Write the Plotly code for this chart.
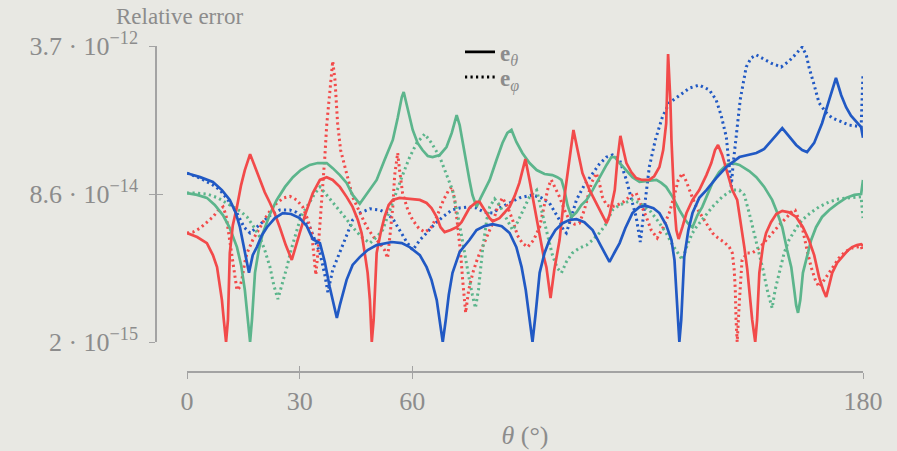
import plotly.graph_objects as go

# ---- data: (theta in degrees, relative error) ----
blue_theta = [(0,1.46e-13),(3.5,1.32e-13),(6.9,1.17e-13),(9.3,9.5e-14),(11.4,7.4e-14),(13.0,5.3e-14),(14.1,3.7e-14),
 (15.4,2.07e-14),(16.5,1.16e-14),(17.5,1.82e-14),(18.6,2.23e-14),(19.9,3.0e-14),(21.3,3.7e-14),(23.4,4.66e-14),
 (25.5,5.3e-14),(27.7,5.17e-14),(30.0,4.66e-14),(31.9,3.8e-14),(33.5,2.73e-14),(35.4,2.47e-14),(36.7,1.53e-14),
 (38.0,8.1e-15),(39.1,5.1e-15),(39.9,3.68e-15),(40.7,5.1e-15),(42.5,9.7e-15),(44.1,1.42e-14),(46.0,1.73e-14),
 (48.1,2.07e-14),(50.5,2.35e-14),(54.5,2.54e-14),(57.2,2.47e-14),(59.3,2.23e-14),(62.0,1.82e-14),(63.8,1.34e-14),
 (65.1,9.7e-15),(66.5,5.8e-15),(67.3,3.5e-15),(68.1,2.0e-15),(68.9,3.5e-15),(69.7,6.6e-15),(70.7,1.16e-14),
 (72.6,1.97e-14),(75.2,2.67e-14),(77.1,3.44e-14),(79.2,3.8e-14),(81.4,4.0e-14),(83.8,3.8e-14),(85.9,3.19e-14),
 (87.7,2.23e-14),(89.1,1.34e-14),(90.2,7.5e-15),(91.2,3.5e-15),(92.0,2.0e-15),(92.8,4.0e-15),(93.9,1.16e-14),
 (95.2,1.92e-14),(96.5,2.67e-14),(98.1,3.44e-14),(100.0,4.1e-14),(101.8,4.44e-14),(103.7,4.55e-14),(105.8,4.2e-14),
 (108.0,3.44e-14),(110.1,2.35e-14),(111.4,1.82e-14),(112.5,1.53e-14),(113.9,1.97e-14),(115.2,2.47e-14),
 (116.7,3.61e-14),(118.6,5.3e-14),(120.5,6.2e-14),(122.3,6.35e-14),(124.2,6.0e-14),(125.8,5.3e-14),(127.6,3.9e-14),
 (129.0,2.67e-14),(129.8,1.61e-14),(130.3,7.5e-15),(130.9,3.5e-15),(131.1,2.0e-15),(131.6,3.5e-15),(132.4,1.73e-14),
 (133.5,3.44e-14),(134.6,5.3e-14),(136.4,7.8e-14),(138.3,9.5e-14),(140.9,1.29e-13),(143.6,1.71e-13),(147.1,2.2e-13),
 (149.7,2.32e-13),(151.6,2.44e-13),(153.7,2.7e-13),(155.0,3.15e-13),(156.9,3.85e-13),(158.5,4.6e-13),(160.1,3.85e-13),
 (162.2,2.99e-13),(163.8,2.63e-13),(165.1,2.5e-13),(167.0,3.15e-13),(169.1,5.2e-13),(171.0,9.4e-13),(172.8,1.64e-12),
 (174.2,1.06e-12),(175.5,7.8e-13),(176.8,6.3e-13),(178.1,5.4e-13),(179.5,4.7e-13),(180,3.6e-13)]

blue_phi = [(0,1.46e-13),(3.5,1.29e-13),(6.9,1.08e-13),(8.8,9.5e-14),(10.9,7.4e-14),(13.3,5.3e-14),(15.2,3.7e-14),
 (16.8,3.19e-14),(18.3,3.61e-14),(20.2,4.2e-14),(22.1,5.0e-14),(24.7,5.73e-14),(27.4,5.73e-14),(29.2,5.4e-14),
 (31.1,4.66e-14),(32.7,3.7e-14),(34.0,2.67e-14),(35.4,1.92e-14),(36.7,1.1e-14),(37.5,7.1e-15),(38.8,1.25e-14),
 (40.7,1.92e-14),(42.5,3.0e-14),(44.1,4.44e-14),(46.0,5.3e-14),(48.7,5.9e-14),(51.3,5.73e-14),(53.2,5.3e-14),
 (55.0,4.44e-14),(56.6,3.44e-14),(58.5,2.54e-14),(60.1,2.07e-14),(62.0,2.67e-14),(63.8,3.19e-14),(65.9,4.0e-14),
 (68.1,4.8e-14),(70.5,5.73e-14),(72.6,6.03e-14),(75.2,6.2e-14),(77.1,6.03e-14),(79.2,5.4e-14),(81.4,5.3e-14),
 (83.2,6.03e-14),(85.9,6.85e-14),(88.5,7.8e-14),(92.0,8.4e-14),(94.4,7.8e-14),(96.5,6.85e-14),(98.1,5.4e-14),
 (99.2,4.44e-14),(100.2,3.44e-14),(101.0,3.19e-14),(102.1,4.44e-14),(103.7,7.4e-14),(105.8,1.08e-13),(108.0,1.46e-13),
 (109.8,1.84e-13),(111.7,2.2e-13),(113.3,2.32e-13),(115.2,2.04e-13),(117.0,1.23e-13),(118.6,6.85e-14),(119.6,4.8e-14),
 (120.7,2.54e-14),(121.8,5.73e-14),(123.1,1.71e-13),(124.7,3.4e-13),(126.6,6.1e-13),(128.4,8.7e-13),(131.1,1.06e-12),
 (133.8,1.27e-12),(136.4,1.37e-12),(139.1,1.21e-12),(140.9,9.4e-13),(142.2,6.4e-13),(143.6,3.67e-13),(144.4,1.8e-13),
 (144.9,1.03e-13),(145.4,1.8e-13),(146.2,3.4e-13),(147.3,9.4e-13),(148.9,2.17e-12),(150.2,2.73e-12),(151.6,2.95e-12),
 (153.7,2.66e-12),(155.5,2.4e-12),(158.2,2.17e-12),(160.3,2.52e-12),(161.9,2.95e-12),(163.8,3.6e-12),(164.9,2.95e-12),
 (165.6,2.17e-12),(167.0,1.37e-12),(168.3,8.7e-13),(170.2,6.8e-13),(171.8,5.94e-13),(174.2,5.4e-13),(176.3,4.96e-13),
 (178.1,4.85e-13),(179.5,4.7e-13),(180,1.86e-12)]

red_theta = [(0,3.19e-14),(2.7,2.88e-14),(5.3,2.47e-14),(6.9,1.82e-14),(8.0,1.34e-14),(8.8,8.5e-15),(9.3,5.8e-15),
 (9.8,3.5e-15),(10.4,2.0e-15),(10.9,3.5e-15),(11.4,1.92e-14),(12.2,3.9e-14),(13.3,6.2e-14),(14.4,1.08e-13),
 (15.4,1.58e-13),(16.8,2.37e-13),(18.1,1.71e-13),(19.4,1.23e-13),(20.7,9.0e-14),(22.1,6.85e-14),(23.4,5.17e-14),
 (24.7,3.7e-14),(26.3,2.35e-14),(27.9,1.61e-14),(29.0,2.23e-14),(30.0,3.19e-14),(31.6,5.3e-14),(33.5,8.8e-14),
 (35.4,1.23e-13),(37.2,1.32e-13),(38.8,1.23e-13),(40.7,1.03e-13),(42.5,8.0e-14),(44.1,6.2e-14),(45.5,4.44e-14),
 (46.5,3.19e-14),(47.6,1.61e-14),(48.1,1.16e-14),(48.7,5.8e-15),(48.9,3.5e-15),(49.2,2.0e-15),(49.7,3.5e-15),
 (50.5,1.92e-14),(51.6,3.27e-14),(52.6,4.8e-14),(53.7,6.5e-14),(54.8,7.4e-14),(56.6,7.8e-14),(59.3,7.6e-14),
 (62.0,7.4e-14),(63.8,6.85e-14),(65.1,6.03e-14),(66.5,4.8e-14),(67.5,3.7e-14),(68.6,3.27e-14),(70.2,3.44e-14),
 (71.8,3.7e-14),(73.1,4.2e-14),(75.2,6.03e-14),(77.1,7.03e-14),(77.9,7.03e-14),(79.2,5.73e-14),(80.6,4.66e-14),
 (81.4,4.3e-14),(83.2,4.66e-14),(85.9,6.2e-14),(87.2,8.1e-14),(88.5,1.14e-13),(90.1,2.09e-13),(91.2,1.23e-13),
 (92.3,6.85e-14),(93.9,3.19e-14),(94.9,1.82e-14),(95.7,1.34e-14),(96.8,6.1e-15),(97.8,1.25e-14),(99.2,2.67e-14),
 (100.2,6.5e-14),(101.3,1.46e-13),(102.1,2.77e-13),(102.9,4.38e-13),(104.0,2.63e-13),(105.3,1.46e-13),(107.2,9.5e-14),
 (109.0,6.85e-14),(110.6,5.0e-14),(111.7,4.1e-14),(112.5,5.0e-14),(113.9,9.5e-14),(114.6,2.04e-13),(115.4,3.77e-13),
 (116.2,2.63e-13),(117.0,1.89e-13),(118.3,1.5e-13),(119.6,1.29e-13),(121.2,1.23e-13),(123.1,1.23e-13),(124.4,1.35e-13),
 (125.8,1.71e-13),(126.8,2.63e-13),(127.6,5.2e-13),(128.1,3.01e-12),(128.7,9.4e-13),(129.0,3.4e-13),(129.8,6.2e-14),
 (130.3,3.44e-14),(130.9,2.74e-14),(131.9,3.7e-14),(133.0,5.3e-14),(134.6,7.4e-14),(136.4,9.5e-14),(138.3,1.39e-13),
 (139.6,1.89e-13),(140.6,2.63e-13),(141.4,2.99e-13),(142.5,2.32e-13),(143.6,1.58e-13),(145.2,9.5e-14),(146.5,7.4e-14),
 (147.6,3.9e-14),(148.4,2.23e-14),(149.2,1.25e-14),(150.0,5.8e-15),(150.5,3.5e-15),(151.3,2.0e-15),(151.8,3.5e-15),
 (152.4,1.16e-14),(153.4,2.35e-14),(154.2,3.19e-14),(155.5,4.2e-14),(156.9,5.17e-14),(158.5,5.6e-14),(160.3,5.4e-14),
 (162.2,4.8e-14),(164.0,3.7e-14),(165.6,2.67e-14),(167.0,1.82e-14),(168.3,1.04e-14),(169.4,7.5e-15),(170.2,6.3e-15),
 (171.0,8.5e-15),(171.8,1.16e-14),(173.1,1.49e-14),(174.5,1.73e-14),(175.8,2.02e-14),(177.1,2.23e-14),(178.4,2.35e-14),
 (179.5,2.4e-14),(180,2.3e-14)]

red_phi = [(0,3.19e-14),(1.6,3.27e-14),(3.5,3.61e-14),(5.3,4.2e-14),(6.9,4.8e-14),(8.2,5.6e-14),(9.6,6.2e-14),
 (10.4,5.0e-14),(11.4,2.67e-14),(12.2,1.53e-14),(12.8,1.16e-14),(13.3,7.5e-15),(14.1,8.1e-15),(14.6,9.7e-15),
 (15.4,1.53e-14),(16.0,1.92e-14),(17.5,2.67e-14),(19.4,3.7e-14),(21.5,5.17e-14),(23.9,6.85e-14),(25.8,7.8e-14),
 (27.4,8.1e-14),(29.2,7.4e-14),(30.8,6.2e-14),(32.2,4.44e-14),(33.2,3.19e-14),(33.8,1.82e-14),(34.3,1.1e-14),
 (34.8,1.82e-14),(35.4,4.1e-14),(36.2,9.5e-14),(36.7,2.2e-13),(37.2,4.96e-13),(37.8,9.4e-13),(38.3,1.64e-12),
 (38.8,2.52e-12),(39.4,1.56e-12),(40.1,5.2e-13),(40.9,2.63e-13),(42.0,1.71e-13),(43.1,1.14e-13),(44.1,8.0e-14),
 (46.0,5.4e-14),(47.9,3.7e-14),(49.7,2.88e-14),(51.3,2.47e-14),(52.6,2.07e-14),(53.4,1.69e-14),(54.2,3.44e-14),
 (54.8,6.2e-14),(55.3,1.39e-13),(56.1,2.44e-13),(56.6,1.58e-13),(57.4,8.8e-14),(58.8,5.73e-14),(60.1,4.44e-14),
 (61.7,3.61e-14),(63.3,3.27e-14),(64.9,3.61e-14),(66.5,4.8e-14),(68.3,7.4e-14),(69.7,9.5e-14),(70.5,1.03e-13),
 (71.3,7.4e-14),(72.1,3.7e-14),(72.9,1.82e-14),(73.4,9.7e-15),(74.2,4.2e-15),(75.0,7.5e-15),(76.1,1.16e-14),
 (77.4,1.69e-14),(78.7,2.23e-14),(80.0,3.0e-14),(81.4,4.1e-14),(82.7,6.2e-14),(84.0,7.8e-14),(85.3,6.3e-14),
 (86.7,4.44e-14),(88.0,3.0e-14),(89.3,2.47e-14),(90.7,2.23e-14),(92.3,2.67e-14),(93.9,3.7e-14),(95.2,6.5e-14),
 (96.2,1.03e-13),(97.0,1.23e-13),(98.1,1.0e-13),(99.2,8.0e-14),(100.5,5.73e-14),(101.8,4.44e-14),(103.2,4.0e-14),
 (104.5,4.1e-14),(105.8,5.73e-14),(106.9,8.4e-14),(107.7,1.14e-13),(109.0,1.46e-13),(109.8,1.14e-13),(110.6,8.0e-14),
 (111.7,6.5e-14),(113.0,6.2e-14),(114.6,6.5e-14),(116.2,7.03e-14),(117.8,8.0e-14),(119.6,8.8e-14),(121.0,6.5e-14),
 (122.3,4.8e-14),(123.6,3.44e-14),(125.2,2.81e-14),(126.8,3.7e-14),(128.4,5.3e-14),(129.8,8.4e-14),(130.8,1.23e-13),
 (131.9,1.46e-13),(133.0,1.17e-13),(134.3,8.4e-14),(135.6,6.2e-14),(137.2,4.8e-14),(138.5,3.9e-14),(139.9,3.19e-14),
 (141.4,2.81e-14),(143.0,2.54e-14),(144.4,2.23e-14),(145.2,1.92e-14),(145.7,1.25e-14),(146.0,7.5e-15),(146.2,3.5e-15),
 (146.5,2.0e-15),(147.1,5.8e-15),(147.8,1.61e-14),(149.2,1.92e-14),(150.5,1.92e-14),(152.4,2.18e-14),(154.2,2.67e-14),
 (155.8,3.19e-14),(157.7,3.9e-14),(159.8,4.8e-14),(161.4,5.73e-14),(161.9,5.73e-14),(163.0,4.44e-14),(163.8,3.7e-14),
 (165.1,2.07e-14),(166.2,1.34e-14),(167.3,9.7e-15),(168.3,8.1e-15),(169.7,9.7e-15),(171.0,1.16e-14),(172.3,1.42e-14),
 (173.6,1.69e-14),(175.2,1.97e-14),(177.1,2.18e-14),(178.4,2.23e-14),(179.5,2.29e-14),(180,1.97e-14)]

green_theta = [(0,8.8e-14),(2.7,8.4e-14),(5.3,7.8e-14),(7.4,6.5e-14),(9.6,5.0e-14),(11.4,3.61e-14),(13.3,2.23e-14),
 (14.4,1.42e-14),(15.4,7.5e-15),(16.2,3.5e-15),(16.8,2.0e-15),(17.3,3.5e-15),(18.1,1.16e-14),(19.1,2.07e-14),
 (20.2,3.19e-14),(22.1,5.17e-14),(23.9,7.4e-14),(26.1,1.03e-13),(28.2,1.32e-13),(30.3,1.58e-13),(32.7,1.8e-13),
 (34.8,1.89e-13),(37.2,1.89e-13),(38.8,1.66e-13),(40.7,1.39e-13),(42.5,1.14e-13),(44.1,8.4e-14),(46.0,6.7e-14),
 (48.1,8.8e-14),(50.5,1.23e-13),(52.6,2.04e-13),(54.8,3.4e-13),(56.1,5.94e-13),(57.2,1.01e-12),(57.7,1.15e-12),
 (58.5,8.3e-13),(60.1,4.38e-13),(61.4,3.15e-13),(62.7,2.63e-13),(64.1,2.26e-13),(65.4,2.2e-13),(67.3,2.32e-13),
 (69.1,2.84e-13),(70.5,4.06e-13),(71.3,5.64e-13),(71.8,6.4e-13),(72.6,4.96e-13),(73.4,3.15e-13),(74.5,1.8e-13),
 (75.2,1.23e-13),(76.0,8.4e-14),(77.1,6.2e-14),(78.2,7.8e-14),(79.2,9.5e-14),(80.6,1.23e-13),(82.4,2.04e-13),
 (84.0,3.15e-13),(85.3,4.06e-13),(86.4,4.38e-13),(87.7,3.23e-13),(89.3,2.44e-13),(91.2,1.89e-13),(93.1,1.58e-13),
 (95.2,1.43e-13),(97.3,1.39e-13),(98.6,1.32e-13),(99.7,1.23e-13),(100.5,9.5e-14),(101.3,6.5e-14),(102.4,4.8e-14),
 (103.7,5.4e-14),(105.0,6.5e-14),(106.4,7.4e-14),(108.0,9.5e-14),(109.8,1.32e-13),(111.7,1.8e-13),(113.0,2.2e-13),
 (113.9,2.2e-13),(115.2,1.89e-13),(117.0,1.58e-13),(118.6,1.32e-13),(120.5,1.17e-13),(122.6,1.2e-13),(125.0,1.23e-13),
 (126.3,1.14e-13),(127.6,1.03e-13),(129.3,8.0e-14),(131.1,5.73e-14),(132.7,4.44e-14),(133.8,3.9e-14),(134.6,3.7e-14),
 (135.9,5.0e-14),(137.2,6.2e-14),(138.5,8.4e-14),(139.9,1.14e-13),(141.7,1.5e-13),(143.6,1.8e-13),(145.2,1.89e-13),
 (147.1,1.8e-13),(149.7,1.54e-13),(151.6,1.32e-13),(153.7,1.03e-13),(155.8,7.4e-14),(157.2,5.3e-14),(158.5,3.7e-14),
 (159.8,2.07e-14),(160.9,1.34e-14),(161.7,7.5e-15),(162.2,5.1e-15),(162.7,4.2e-15),(163.3,5.8e-15),(164.0,1.16e-14),
 (164.8,1.61e-14),(166.2,2.67e-14),(167.5,3.7e-14),(169.1,4.8e-14),(171.0,5.73e-14),(173.1,6.7e-14),(175.5,7.8e-14),
 (177.7,8.4e-14),(179.5,8.6e-14),(180,1.23e-13)]

green_phi = [(0,8.8e-14),(2.7,8.8e-14),(5.3,8.6e-14),(8.2,7.8e-14),(11.4,6.5e-14),(14.1,5.6e-14),(16.0,4.8e-14),
 (17.5,3.9e-14),(19.4,2.88e-14),(20.7,2.07e-14),(22.1,1.34e-14),(23.1,8.5e-15),(24.2,5.95e-15),(25.3,8.5e-15),
 (26.6,1.34e-14),(27.7,2.07e-14),(28.7,2.88e-14),(30.3,4.8e-14),(31.9,6.2e-14),(33.8,8.4e-14),(35.4,1.03e-13),
 (37.2,8.4e-14),(39.9,6.2e-14),(42.0,4.8e-14),(44.1,3.7e-14),(46.5,2.88e-14),(48.7,2.47e-14),(50.5,2.88e-14),
 (52.1,3.44e-14),(54.0,5.73e-14),(55.8,8.8e-14),(57.4,1.39e-13),(59.3,2.2e-13),(61.2,3.15e-13),(63.3,3.95e-13),
 (65.1,3.15e-13),(67.3,2.2e-13),(69.1,1.39e-13),(70.7,9.5e-14),(72.6,3.9e-14),(73.7,2.07e-14),(74.5,1.42e-14),
 (75.2,9.7e-15),(76.0,6.6e-15),(76.8,4.74e-15),(77.6,7.5e-15),(78.7,2.07e-14),(79.8,4.44e-14),(80.6,6.2e-14),
 (81.9,7.6e-14),(83.2,6.5e-14),(84.6,5.0e-14),(85.9,3.9e-14),(86.7,3.44e-14),(88.0,4.2e-14),(89.3,5.4e-14),
 (91.2,8.0e-14),(93.1,9.5e-14),(94.1,6.5e-14),(95.2,4.2e-14),(96.2,2.88e-14),(97.3,1.82e-14),(98.6,1.31e-14),
 (99.7,1.16e-14),(101.0,1.53e-14),(102.6,1.92e-14),(104.5,2.18e-14),(106.4,2.35e-14),(108.0,2.67e-14),(109.8,3.19e-14),
 (111.4,3.9e-14),(113.3,5.73e-14),(115.2,6.5e-14),(117.0,7.03e-14),(118.6,7.4e-14),(120.5,6.85e-14),(123.1,5.73e-14),
 (125.2,4.44e-14),(127.6,3.19e-14),(129.3,2.35e-14),(130.6,1.92e-14),(131.9,1.61e-14),(133.2,2.35e-14),(134.6,3.19e-14),
 (135.6,3.7e-14),(137.7,4.8e-14),(139.9,6.2e-14),(142.5,8.0e-14),(145.2,9.5e-14),(147.1,9.5e-14),(148.4,8.4e-14),
 (149.7,5.3e-14),(151.0,3.19e-14),(152.4,1.92e-14),(153.4,1.25e-14),(154.5,7.5e-15),(155.3,5.4e-15),(155.8,4.74e-15),
 (156.6,7.5e-15),(157.7,1.16e-14),(159.0,1.92e-14),(160.3,2.67e-14),(162.2,3.61e-14),(163.8,4.44e-14),(166.2,5.4e-14),
 (168.3,6.2e-14),(171.0,7.03e-14),(173.6,7.6e-14),(176.3,7.8e-14),(177.9,8.0e-14),(179.5,8.0e-14),(180,4.66e-14)]

x_ticks = [0, 30, 60, 180]
y_ticks = [2e-15, 8.6e-14, 3.7e-12]
y_tick_text = ["2 · 10<sup>−15</sup>", "8.6 · 10<sup>−14</sup>", "3.7 · 10<sup>−12</sup>"]

BLUE = "#2159c4"
RED = "#f24a4a"
GREEN = "#5cb58c"
BG = "#e8e8e3"
AXIS = "#a3a3a3"
TXT = "#8c8c8c"
FONT = "Liberation Serif"
DOT = "2.2px,3.3px"

series = [
    (blue_phi, BLUE, "dotted"), (red_phi, RED, "dotted"), (green_phi, GREEN, "dotted"),
    (green_theta, GREEN, "solid"), (red_theta, RED, "solid"), (blue_theta, BLUE, "solid"),
]

fig = go.Figure()
for pts, col, sty in series:
    xs = [p[0] for p in pts]
    ys = [p[1] for p in pts]
    fig.add_trace(go.Scatter(
        x=xs, y=ys, mode="lines", showlegend=False, hoverinfo="skip",
        line=dict(color=col, width=2.7 if sty == "solid" else 3.0,
                  dash="solid" if sty == "solid" else DOT),
    ))

# legend entries (one legend box per row for exact placement)
fig.add_trace(go.Scatter(x=[None], y=[None], mode="lines", name="<b>e</b><sub><i>θ</i></sub>",
                         line=dict(color="black", width=2.7), legend="legend"))
fig.add_trace(go.Scatter(x=[None], y=[None], mode="lines", name="<b>e</b><sub><i>φ</i></sub>",
                         line=dict(color="black", width=3.0, dash=DOT), legend="legend2"))
# dummy trace for the overlay axes (tick marks crossing the axis lines)
fig.add_trace(go.Scatter(x=[None], y=[None], xaxis="x2", yaxis="y2", showlegend=False, hoverinfo="skip"))

W, H = 897, 451
ml, mr, mt, mb = 156, 34, 46, 60
pw = W - ml - mr
ph = H - mt - mb
x_dom0 = (187 - ml) / pw
y_dom0 = (H - mb - 342) / ph
x_pos = (H - mb - 372) / ph

common_x = dict(domain=[x_dom0, 1], anchor="free", position=x_pos, range=[0, 180],
                tickmode="array", tickvals=x_ticks, showgrid=False, zeroline=False,
                tickcolor=AXIS, tickwidth=1.2, ticklen=6)
common_y = dict(domain=[y_dom0, 1], anchor="free", position=0, type="log",
                range=[-14.69897, -11.43180], tickmode="array", tickvals=y_ticks,
                showgrid=False, zeroline=False, tickcolor=AXIS, tickwidth=1.2, ticklen=6)

leg_common = dict(x=(460 - ml) / pw, xanchor="left", yanchor="middle",
                  bgcolor="rgba(0,0,0,0)", font=dict(family=FONT, size=23, color=TXT),
                  itemwidth=30)

fig.update_layout(
    width=W, height=H,
    margin=dict(l=ml, r=mr, t=mt, b=mb, autoexpand=False),
    paper_bgcolor=BG, plot_bgcolor=BG,
    font=dict(family=FONT, color=TXT, size=26),
    xaxis=dict(**common_x, ticks="outside", showline=True, linecolor=AXIS, linewidth=1.6,
               tickfont=dict(family=FONT, size=26, color=TXT),
               title=dict(text="<i>θ</i> (°)", font=dict(family=FONT, size=26, color=TXT), standoff=10)),
    yaxis=dict(**common_y, ticks="outside", showline=True, linecolor=AXIS, linewidth=1.6,
               ticktext=y_tick_text, tickfont=dict(family=FONT, size=26, color=TXT),
               ticklabelstandoff=6),
    xaxis2=dict(**common_x, overlaying="x", ticks="inside", showticklabels=False, showline=False),
    yaxis2=dict(**common_y, overlaying="y", ticks="inside", showticklabels=False, showline=False),
    legend=dict(**leg_common, y=(H - mb - 52) / ph),
    legend2=dict(**leg_common, y=(H - mb - 77) / ph),
    annotations=[dict(text="Relative error", xref="paper", yref="paper",
                      x=(114 - ml) / pw, y=(H - mb - 16) / ph, xanchor="left", yanchor="middle",
                      showarrow=False, font=dict(family=FONT, size=23, color=TXT))],
    showlegend=True,
)

fig.write_html("out.html", config={"displayModeBar": False},
               post_script="document.body.style.margin='0';document.body.style.background='" + BG + "';")
